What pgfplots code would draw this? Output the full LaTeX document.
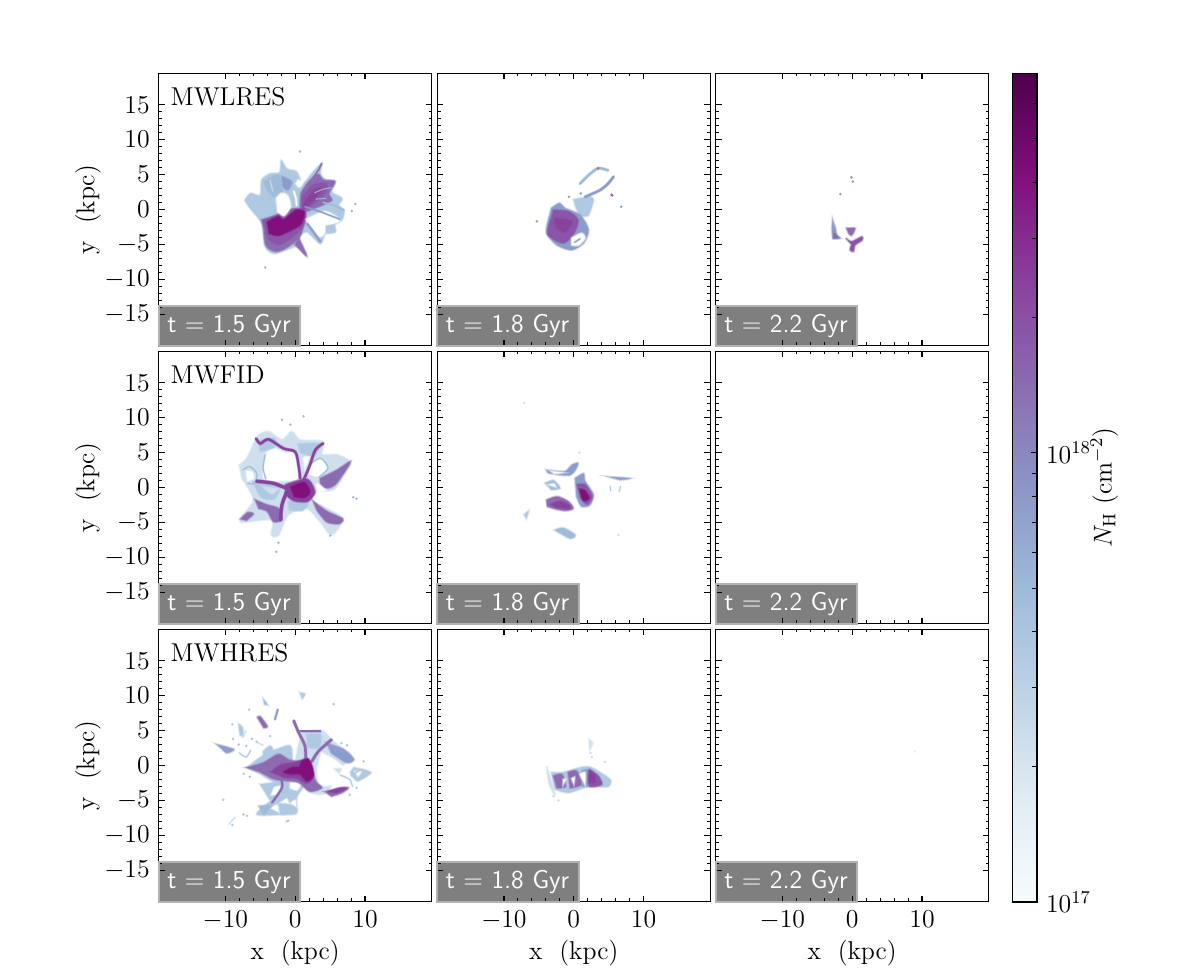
\RequirePackage{fix-cm}
\documentclass[border=0pt]{standalone}
\usepackage{fontspec}
\usepackage{pgfplots}
\pgfplotsset{compat=1.18}

\definecolor{pale}{HTML}{CFDFEE}
\definecolor{light}{HTML}{B0C9E2}
\definecolor{blue}{HTML}{9EBCDA}
\definecolor{mblue}{HTML}{8C9CCC}
\definecolor{violet}{HTML}{8C6BB1}
\definecolor{plum}{HTML}{8A55A8}
\definecolor{purple}{HTML}{88419D}
\definecolor{magenta}{HTML}{810F7C}

\pgfplotsset{
  colormap={bupu}{rgb255=(247,252,253) rgb255=(224,236,244) rgb255=(191,211,230) rgb255=(158,188,218)
    rgb255=(140,150,198) rgb255=(140,107,177) rgb255=(136,65,157) rgb255=(129,15,124) rgb255=(77,0,75)},
  panel/.style={
    scale only axis, width=136.5pt, height=136.2pt,
    xmin=-19.55, xmax=19.55, ymin=-19.5, ymax=19.5,
    xtick={-10,0,10}, ytick={-15,-10,-5,0,5,10,15},
    minor x tick num=4, minor y tick num=4,
    tick align=inside, tick pos=both,
    major tick length=3pt, minor tick length=1.6pt,
    tick style={black,line width=.55pt}, axis line style={line width=.7pt},
    xticklabels=\empty, yticklabels=\empty,
    every axis x label/.style={at={(axis description cs:.5,-.187)},anchor=center},
    every axis y label/.style={at={(axis description cs:-.259,.5)},anchor=center,rotate=90},
  },
  left/.style={yticklabels={$-15$,$-10$,$-5$,$0$,$5$,$10$,$15$},ylabel={y\ \ (kpc)}},
  bottom/.style={xticklabels={$-10$,$0$,$10$},xlabel={x\ \ (kpc)}},
}

% a filled patch with a soft edge, a filament, some specks
\newcommand\blob[2]{%
  \addplot[smooth,tension=.45,draw=#1,draw opacity=.3,line width=1.4pt,forget plot] coordinates {#2} -- cycle;
  \addplot[smooth,tension=.45,fill=#1,draw=#1,draw opacity=.5,line width=.6pt,forget plot] coordinates {#2} -- cycle;}
\newcommand\fil[3]{%
  \addplot[color=#1,opacity=.35,line width=#2+.6pt,smooth,line cap=round,forget plot] coordinates {#3};
  \addplot[color=#1,line width=#2,smooth,line cap=round,forget plot] coordinates {#3};}
\newcommand\spk[2]{\addplot[only marks,mark=*,mark size=.7pt,mark options={draw opacity=0},color=#1,forget plot] coordinates {#2};}
\newcommand\tbox[1]{%
  \fill[black,fill opacity=.5] (axis cs:-19.55,-19.5) rectangle (axis cs:.7,-13.8);
  \draw[color=black!30,line width=1pt] (axis cs:-19.55,-19.5) rectangle (axis cs:.7,-13.8);
  \node[anchor=west,inner sep=0pt,text=white,font=\sffamily] at (axis cs:-18.37,-16.7) {#1};}
\newcommand\run[1]{\node[anchor=west,inner sep=0pt] at (axis cs:-17.9,16.1) {#1};}

\begin{document}
\fontsize{12.9}{15}\selectfont
\begin{tikzpicture}
\path[use as bounding box] (0,0) rectangle (598pt,488pt);

% row 1
\begin{axis}[panel,left,at={(79.35pt,315.15pt)},after end axis/.code={\tbox{t = 1.5 Gyr}}]
\blob{light}{(-7.2,1.3) (-6.4,2.3) (-5,2) (-4.8,4.2) (-3.6,5.1) (-2.2,5.3) (-2,7) (-1.2,5.8) (.2,5.4) (1.1,3.7) (2.6,5.4) (3.8,6.6) (3.6,5.1) (4.5,4.2) (5.7,4) (5.2,2.5) (6.7,1.6) (6.2,.6) (7,-.1) (6.7,-1.5) (5.6,-2.2) (5.7,-3.2) (4.3,-3.4) (3.6,-4.9) (1.7,-3.2) (.5,-4.1) (1.6,-6.6) (.2,-5.3) (-2.9,-6.3) (-4.3,-5.3) (-4.8,-2) (-6.4,.1)}
\blob{blue}{(-4.4,4) (-2.4,4.9) (-1.9,2.3) (-2.9,1.8) (-4,2.8)}
\blob{mblue}{(-1.9,4.7) (-.5,4) (-1,2.8) (-1.7,3.2)}
\blob{violet}{(.8,2.3) (1.7,3.7) (2.8,4.8) (3.4,5) (4,4.2) (5.7,4) (4.8,2.3) (5.2,1.3) (3.3,.4) (1.4,-.3) (.7,.1)}
\blob{violet}{(-4.8,-1.5) (-2.6,-.8) (-.2,.1) (1.4,-.3) (1.3,-1.8) (.6,-4) (-1.5,-5.6) (-2.9,-6) (-4.2,-5.1) (-4.5,-2.7)}
\blob{plum}{(1,1.8) (2.6,3.5) (4.5,3.7) (4.2,2.3) (2.3,.6) (1,-.1)}
\blob{plum}{(-4.5,-1.6) (-.2,0) (1.4,-.3) (1.1,-2.4) (-.8,-4.2) (-2.4,-5) (-3.9,-4.2)}
\blob{purple}{(1.3,.9) (2.8,2.8) (3.8,2.9) (2.2,1) (1.2,.2)}
\blob{magenta}{(-4,-1.8) (-2.4,-1) (-1.7,-1.5) (.2,-.1) (1.3,-.4) (.8,-2.1) (-.7,-3) (-2.4,-3.7) (-3.7,-3.4)}
\blob{white}{(-2.7,1.6) (-2,2.3) (-1.1,2) (-.7,.4) (-1.6,-.9) (-2.5,-.3)}
\blob{white}{(1.6,-1.4) (4.3,-.3) (6.4,-1.5) (5.2,-2.1) (4.3,-2.2) (4.3,-3.2) (3.5,-3.9) (1.9,-2.2)}
\blob{white}{(.4,4.2) (1.1,3.9) (.6,3.2) (.1,3.7)}
\fil{white}{.7pt}{(-.2,2.6) (.1,1.6) (.2,.6)}
\fil{blue}{.3pt}{(2.8,2.4) (4,2.9) (5.2,3.1)}
\fil{blue}{.3pt}{(3,1.5) (4.4,1.6)}
\fil{pale}{.3pt}{(-3.6,4.2) (-3.2,2.6)}
\fil{mblue}{.6pt}{(1.4,.4) (3.8,-.4) (6.4,-1.4)}
\fil{blue}{.6pt}{(4,1) (5.5,.6) (7,-.1)}
\fil{mblue}{1pt}{(1.7,-2) (2.6,-3.2) (3.6,-4.6)}
\fil{violet}{.6pt}{(2.6,4.6) (3.3,5.6) (3.8,6.6)}
\blob{light}{(4.5,-2.7) (5.5,-2.2) (5.7,-3.2) (4.5,-3.4)}
\blob{violet}{(.5,-4.1) (1.6,-6.6) (0,-5)}
\spk{blue}{(.7,8.3) (-4.3,-8.3) (8.6,.8) (8.1,-.2)}
\run{MWLRES}
\end{axis}

\begin{axis}[panel,at={(218.65pt,315.15pt)},after end axis/.code={\tbox{t = 1.8 Gyr}}]
\blob{light}{(0,1.4) (.9,1.6) (2.3,1.8) (2.8,1.4) (2.1,-.8) (.9,-.8) (.2,.6)}
\blob{mblue}{(-3.2,.2) (-2,.9) (-1.3,.2) (.9,-.8) (2.1,-2.9) (1.4,-4.8) (-.3,-5.8) (-2.4,-5.1) (-3.9,-3.4) (-3.7,-1.7)}
\blob{plum}{(-2.9,-.1) (-.8,-.3) (.6,-1.5) (0,-3.4) (-1.5,-4.8) (-3.7,-3.6) (-3.3,-1.5)}
\blob{purple}{(-2.7,-1.3) (-.3,-1.7) (-1.3,-3.2) (-2.5,-2.5)}
\blob{white}{(-.3,-4.1) (1.1,-3.4) (1.6,-4.1) (.7,-5.1) (-.3,-5.1)}
\fil{mblue}{.5pt}{(.1,-4.7) (.9,-4.2)}
\fil{blue}{1.2pt}{(.9,3.7) (2.1,4.9) (3.5,5.9) (4.9,5.6)}
\fil{mblue}{1.2pt}{(5.7,4.7) (4.9,3.7) (3.8,2.8) (1.6,1.8)}
\spk{violet}{(3.5,5.9) (5.4,2.1) (5.5,2)}
\spk{mblue}{(6.8,.4) (-5.3,-1.7) (-.7,1.8) (1,2.3)}
\end{axis}

\begin{axis}[panel,at={(357.85pt,315.15pt)},after end axis/.code={\tbox{t = 2.2 Gyr}}]
\blob{mblue}{(-2.8,-1.5) (-2.4,-2.7) (-2.2,-3.7) (-1.7,-4.1) (-2.7,-4.1) (-2.9,-2.7)}
\blob{violet}{(-2.6,-3.4) (-2,-4) (-2.7,-4.1)}
\blob{violet}{(-.8,-2.7) (.4,-2.7) (-.1,-3.7) (-.5,-3.4)}
\blob{plum}{(-.9,-4.1) (-.1,-4.6) (1.4,-3.9) (1.4,-4.4) (.4,-5.1) (.2,-6) (-.3,-5.8) (-.1,-5)}
\spk{mblue}{(-.1,4.6) (.1,4) (-1.7,2.2)}
\end{axis}

% row 2
\begin{axis}[panel,left,at={(79.35pt,176.15pt)},after end axis/.code={\tbox{t = 1.5 Gyr}}]
\blob{pale}{(-8,3.2) (-6.9,4.2) (-5.4,7.3) (-3.8,8) (-1.9,6.8) (-.5,8) (.7,6.8) (4,6.6) (3.8,4.7) (5.9,4.7) (7.9,3.7) (7.1,2) (5.5,-.3) (3.1,-.6) (2.4,-1.8) (4.5,-3) (6.8,-4.5) (5.2,-6.8) (3.6,-4.9) (1.7,-3) (-1,-3.9) (-2.4,-6.8) (-3.4,-6.8) (-3.4,-4.6) (-7.9,-4.9) (-6,-2) (-6.7,-.1) (-7.6,1.3)}
\blob{white}{(-4.3,4.7) (-3.1,5.6) (-1.4,4.9) (.1,4.9) (.6,2) (-.2,1.1) (-4.3,1.1) (-4.5,2.8)}
\blob{white}{(2,3.2) (3.6,4) (4.5,2.8) (3.3,1.6) (2,2)}
\blob{white}{(1.2,4.2) (2,4.4) (1.4,2.8)}
\blob{white}{(-7,2.3) (-6.2,2.2) (-6,1.3) (-6.8,1)}
\blob{white}{(3,.4) (4.3,.6) (4.5,-.3) (3.3,-.6)}
\blob{light}{(-5.2,6.7) (-3,7) (-3,5.8) (-5,5.2)}
\blob{light}{(.4,6.2) (3.6,6.2) (2.6,4.6) (.8,5)}
\blob{light}{(-6,.8) (-4.8,-1.4) (-3,-1.6) (-2,.3)}
\blob{pale}{(-4.6,.1) (-3.4,-.9) (-2.4,-.2)}
\blob{light}{(-1,-2) (1.8,-2.2) (1,-3.3) (-.8,-3.2)}
\fil{blue}{.4pt}{(-7.5,2.5) (-6.5,3) (-5.5,2) (-5.8,.6) (-6.8,.6)}
\fil{blue}{.5pt}{(-4.3,4.7) (-4.6,2.8) (-4.2,1.2)}
\fil{blue}{.4pt}{(2,3.2) (3.6,4.2) (4.7,2.8) (3.4,1.5)}
\blob{violet}{(3.6,1.3) (6,2.5) (7.9,3.7) (6.9,2) (5.7,.4) (4.5,-.1) (3.6,.6)}
\blob{violet}{(2.6,-2) (4.5,-3.4) (6.8,-4.5) (6.2,-5.2) (4.5,-4.9) (3.1,-3.2)}
\blob{violet}{(-5.7,-1.8) (-4,-2.5) (-2.4,-3) (-1.9,-4.6) (-3.1,-4.9) (-4,-3.4) (-5.2,-3)}
\blob{violet}{(-7.8,-4.5) (-6.8,-3.6) (-6,-3.8) (-7,-4.7)}
\fil{purple}{1.2pt}{(-5.6,7) (-5,6.3) (-3.8,6.9) (-1.7,5.6) (0,5.1) (.5,3) (.7,1.3)}
\fil{purple}{1.2pt}{(4,6.3) (2.9,5.4) (2.1,3.2) (1.3,1.3) (.5,-.1)}
\fil{purple}{1.6pt}{(-5.5,.9) (-3.1,.6) (-1.2,-.1) (.7,-.3) (2.6,-.8)}
\fil{purple}{1.6pt}{(-1.2,-.6) (-1.9,-2.5) (-2.1,-4.6)}
\blob{purple}{(-1.4,.4) (1.7,1.2) (2.8,-.6) (1.8,-2) (-.2,-1.9) (-1.4,-1)}
\blob{magenta}{(-.6,.1) (1.3,.7) (2.1,-.6) (1.3,-1.4) (-.1,-1.3)}
\spk{blue}{(8.8,-1.6) (8.3,-1.4) (1.2,10.2) (-1.9,9.7) (-.7,9) (-2.7,-9.2) (-2.4,-7.9) (5,-6.9)}
\run{MWFID}
\end{axis}

\begin{axis}[panel,at={(218.65pt,176.15pt)},after end axis/.code={\tbox{t = 1.8 Gyr}}]
\blob{mblue}{(-3.9,2.5) (-1.3,2.3) (-.3,3.2) (.6,3.5) (.2,2.5) (-.5,1.8) (-2,1.8) (-3.7,2.1)}
\blob{white}{(-3.2,2.3) (-1.6,2.1) (-2.8,2)}
\blob{mblue}{(.2,1.3) (1.4,2) (1.6,.9) (2.8,-1) (2.3,-2.5) (1.1,-2.7) (.4,-1.3)}
\blob{plum}{(.5,.4) (1.6,.4) (2.6,-1.3) (1.9,-2.4) (1,-1.5)}
\blob{magenta}{(.9,-.3) (1.5,-.4) (2.2,-1.5) (1.5,-1.9) (1.1,-1.3)}
\blob{violet}{(-3.9,-1.8) (-2.4,-1.3) (-.8,-2) (-.1,-3) (-1.3,-3.3) (-2.9,-3) (-3.8,-2.7)}
\blob{purple}{(-3.2,-2.4) (-2,-2) (-.7,-2.5) (-.6,-3) (-2.6,-2.8)}
\blob{blue}{(-4.1,.6) (-2.9,1) (-2,-.1) (-3.2,-.3)}
\blob{white}{(-3.5,.4) (-2.8,.5) (-2.6,.1)}
\blob{blue}{(-2.7,-6.1) (-1.5,-5.8) (.2,-6.8) (-.5,-7.3) (-2,-6.5)}
\blob{light}{(-7.1,-3.9) (-6.5,-3.4) (-6.8,-4.4)}
\blob{mblue}{(5.2,1.5) (8,1.3) (6.6,1.1)}
\fil{light}{.4pt}{(5.2,.2) (5.3,-.5)}
\fil{light}{.4pt}{(6.7,.2) (6.5,-.6)}
\spk{pale}{(6.4,-6.8) (-7.1,12.1) (.8,5)}
\end{axis}

\begin{axis}[panel,at={(357.85pt,176.15pt)},after end axis/.code={\tbox{t = 2.2 Gyr}}]
\end{axis}

% row 3
\begin{axis}[panel,left,bottom,at={(79.35pt,37.15pt)},after end axis/.code={\tbox{t = 1.5 Gyr}}]
\blob{pale}{(1,4.8) (3.8,5) (5.5,3.4) (8,1.4) (6.4,-.4) (4.5,-3.9) (2,-3.8) (.8,-2) (0,0) (.5,3)}
\blob{light}{(1.6,4.4) (3.6,4.4) (3.4,2.6) (1.9,2.6)}
\blob{white}{(3.8,1.8) (6,.5) (7.2,-.9) (5.8,-2.6) (3.5,-2.7) (3.2,-.4)}
\blob{light}{(-5,-2.7) (1.2,-2.2) (.2,-4.6) (.2,-6.8) (-1.7,-7) (-5.5,-7) (-3.5,-5.1)}
\blob{light}{(-6.9,-.3) (-4.5,1.5) (-2.4,2.4) (-.7,2.8) (-.5,.6) (-2,-2.6) (-5,-1.2)}
\blob{white}{(-.7,-2.3) (.7,-2.7) (.2,-3.5) (-.7,-3.2)}
\blob{white}{(-3,-3.2) (-2.2,-3) (-2.6,-4) (-3.4,-4.2)}
\blob{white}{(-2,-5.3) (-1.2,-4.8) (-1,-5.4)}
\blob{white}{(-3.4,-6.1) (-2.6,-5.7) (-2.4,-6.6)}
\blob{white}{(-.6,-5.4) (0,-5) (.1,-5.8)}
\blob{mblue}{(4.5,3.2) (6.9,2.3) (8.4,.9) (7.4,.4) (5.2,1.8)}
\blob{light}{(8.4,-.3) (10.8,-1) (8.9,-2.2) (7.9,-1)}
\blob{white}{(8.6,-.9) (9.4,-.9) (9,-1.5)}
\blob{pale}{(5.7,-.5) (6.5,-.5) (6.3,-1.1)}
\blob{violet}{(4.5,-3.9) (6.4,-3.2) (7.6,-3.2) (6.7,-3.9) (5.2,-4.4)}
\blob{purple}{(4.6,-3.7) (6.2,-3.3) (7.2,-3.3) (5.8,-3.9)}
\blob{mblue}{(-11.2,3) (-8.8,2.3) (-9.8,1.8) (-10.5,2.4)}
\blob{violet}{(-5.4,6.9) (-5,7) (-4,5.6) (-4.5,5.4)}
\blob{blue}{(-4.5,9.4) (-4,8.7) (-4.4,8.8)}
\blob{light}{(-8.1,5.9) (-7.6,5.5) (-7.4,4.2) (-7.9,4.4)}
\blob{blue}{(-5.2,-5.8) (-3.5,-5.8) (-4.5,-7)}
\blob{light}{(-1.4,-5.6) (-.5,-6.5) (-1.7,-7)}
\blob{light}{(-4.6,2) (-3.6,2.8) (-3.2,2) (-4.4,.9)}
\blob{light}{(.7,10.4) (1.4,10.2) (1,9.6)}
\fil{mblue}{.9pt}{(-2.5,8) (-2.9,6.6)}
\fil{pale}{.5pt}{(-7,5) (-7.6,4)}
\fil{light}{.5pt}{(-8,1.8) (-7,1.2) (-6.4,2.2)}
\fil{light}{.5pt}{(8,-1.5) (9.5,-.6) (10.7,-1.1)}
\fil{light}{.5pt}{(6.5,-1.4) (7.8,-2) (8.2,-3)}
\fil{pale}{.5pt}{(-5.6,3.4) (-4.6,2.9)}
\fil{pale}{.5pt}{(-9.5,-8.4) (-8.6,-7.4)}
\fil{violet}{1pt}{(-2,-2) (-1.9,-3.2) (-3.3,-5.3)}
\fil{violet}{1.3pt}{(-.2,6.4) (.5,4.7) (1.4,2.8) (1.5,.6)}
\fil{violet}{1pt}{(.7,4.9) (3.6,4.9)}
\fil{violet}{1.3pt}{(5.2,3.7) (3.3,2) (2.4,.6)}
\blob{violet}{(-6.9,-.3) (-4.5,.4) (-2.4,1.6) (-.9,.8) (.6,.6) (1.8,.9) (2.9,-2.2) (3.8,-3.2) (2.1,-3.7) (.5,-2.4) (-1.2,-2.2) (-3.1,-1.9) (-5,-.9)}
\blob{purple}{(-3.4,-.9) (-2,.1) (-.5,.3) (.9,.7) (2.2,.5) (2.6,-1.5) (1.7,-2.5) (.2,-1.8) (-1.5,-1.7)}
\blob{magenta}{(1,.6) (1.9,.9) (2.6,-1.3) (1.7,-2.2) (.7,-1.2) (-.6,-1.2) (-1.6,-.9) (-.4,-.3) (.6,-.3)}
\spk{light}{(-1.2,-8) (-6.9,-7.2) (-10.3,-4.9) (-9,-8.5) (-8.1,3) (-7,2.8) (-5.5,3.4) (-7.4,-1.2) (-9,5.9) (-6.6,8) (5.5,8.8) (-7.4,-7) (-1,-7.9) (-6.2,3.8) (-6.5,-1.6) (-3.6,4.2) (-8.9,3.8) (9.8,.6) (7.4,2.9) (6.6,3.2) (8.8,-3.2) (7.8,-4.2)}
\run{MWHRES}
\end{axis}

\begin{axis}[panel,bottom,at={(218.65pt,37.15pt)},after end axis/.code={\tbox{t = 1.8 Gyr}}]
\blob{light}{(-3.2,-1) (-1.5,-1) (.9,-.3) (2.5,-.3) (5.2,-2) (4.9,-3) (2.8,-3) (1.4,-3.2) (-.8,-3.9) (-2.7,-3.4)}
\blob{violet}{(-2.9,-1.5) (-1.7,-1.3) (-1.2,-3) (-2.4,-3.2)}
\blob{violet}{(-.8,-1) (.4,-.8) (1.1,-2.7) (-.5,-3.2)}
\blob{mblue}{(1.2,-.8) (2.2,-.7) (2.2,-2.8) (1.2,-2.9)}
\blob{plum}{(2.3,-.6) (3.5,-1.5) (4,-2.7) (2.3,-3) (2.1,-1.5)}
\blob{purple}{(2.2,-.8) (3,-1.4) (3,-2.4) (2.2,-2.4)}
\blob{white}{(-1.5,-2) (-1.2,-2) (-1.5,-2.7)}
\blob{white}{(.9,-1.3) (1.6,-1) (1.6,-2.7)}
\blob{white}{(-.3,-1.9) (.1,-1.7) (0,-2.6)}
\blob{pale}{(2.2,3.7) (2.7,3.2) (2.3,2.3)}
\blob{pale}{(-3.9,-.1) (-2.7,-4.2) (-3.6,-2.5)}
\spk{pale}{(2.4,1.8) (2.6,1.2) (-2.9,-4.4) (-2.2,-5) (4.5,.5)}
\end{axis}

\begin{axis}[panel,bottom,at={(357.85pt,37.15pt)},after end axis/.code={\tbox{t = 2.2 Gyr}}]
\spk{pale!60!white}{(9,2)}
\end{axis}

% colour bar
\begin{scope}[shift={(497.65pt,37pt)}]
\pgfplotscolorbardrawstandalone[
  colormap name=bupu, point meta min=17, point meta max=18.845,
  colorbar style={
    scale only axis, width=12.35pt, height=414.4pt, at={(0,0)}, anchor=south west,
    ymin=17, ymax=18.845,
    ytick={17,18}, yticklabels={$10^{17}$,$10^{18}$},
    minor ytick={17.301,17.477,17.602,17.699,17.778,17.845,17.903,17.954,18.301,18.477,18.602,18.699,18.778},
    tick align=inside, ytick pos=right, yticklabel pos=right,
    major tick length=3pt, minor tick length=2.3pt,
    tick style={black,line width=.4pt}, axis line style={line width=.6pt},
    ylabel={$N_{\mathrm{H}}$ (cm$^{-2}$)},
    every axis y label/.style={at={(axis description cs:3.72,.5)},anchor=center,rotate=90},
  }]
\end{scope}
\end{tikzpicture}
\end{document}
